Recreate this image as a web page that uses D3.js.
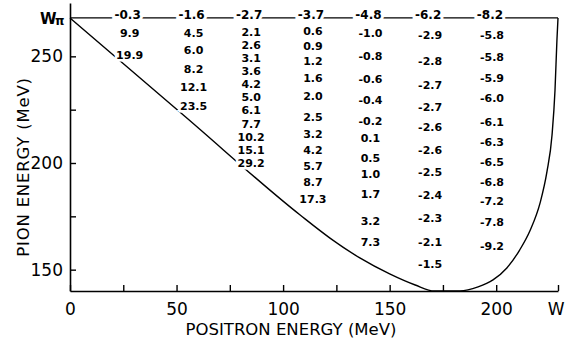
<!DOCTYPE html>
<html>
<head>
<meta charset="utf-8">
<script src="https://cdn.jsdelivr.net/npm/d3@7"></script>
<style>
  body { margin: 0; background: #fff; }
  text { font-family: "DejaVu Sans", sans-serif; fill: #000; }
</style>
</head>
<body>
<div id="chart"></div>
<script>
// kinematic limits
let wPion = 268;      // W_pi, top of the pion energy range (MeV)
let wPositron = 229;  // W, end of positron energy axis (MeV)

// positron energy of each column of numbers
let columnEnergy = [28, 58, 85, 114, 141, 169, 198];
// numbers written on the W_pi line
let topValues = ["-0.3", "-1.6", "-2.7", "-3.7", "-4.8", "-6.2", "-8.2"];

// numbers in each column and the pion energy where each is written
let colValues = [
  ["9.9", "19.9"],
  ["4.5", "6.0", "8.2", "12.1", "23.5"],
  ["2.1", "2.6", "3.1", "3.6", "4.2", "5.0", "6.1", "7.7", "10.2", "15.1", "29.2"],
  ["0.6", "0.9", "1.2", "1.6", "2.0", "2.5", "3.2", "4.2", "5.7", "8.7", "17.3"],
  ["-1.0", "-0.8", "-0.6", "-0.4", "-0.2", "0.1", "0.5", "1.0", "1.7", "3.2", "7.3"],
  ["-2.9", "-2.8", "-2.7", "-2.7", "-2.6", "-2.6", "-2.5", "-2.4", "-2.3", "-2.1", "-1.5"],
  ["-5.8", "-5.8", "-5.9", "-6.0", "-6.1", "-6.3", "-6.5", "-6.8", "-7.2", "-7.8", "-9.2"]
];
let colRows = [
  [260.9, 250.6],
  [260.9, 253.0, 244.1, 235.6, 226.7],
  [261.4, 255.3, 249.1, 243.0, 236.8, 230.7, 224.6, 218.4, 212.3, 206.1, 200.0],
  [261.9, 254.8, 247.8, 239.8, 231.4, 221.6, 213.6, 206.1, 198.6, 191.1, 183.1],
  [260.9, 250.2, 239.4, 229.5, 219.7, 211.7, 202.3, 194.8, 185.5, 172.8, 163.0],
  [260.0, 247.8, 236.6, 226.3, 216.9, 206.1, 195.8, 185.0, 174.2, 163.0, 152.7],
  [260.0, 249.7, 239.8, 230.5, 219.2, 209.8, 200.5, 191.1, 182.2, 172.3, 161.1]
];

// boundary curve (positron energy, pion energy)
let boundaryE = [0, 54, 108, 122, 136, 150, 162, 171, 183, 191.5, 198.5, 205, 211, 216, 220.6, 223.8, 226.2, 227.6, 228.5, 229];
let boundaryPi = [268, 221.8, 175.6, 164.8, 155.5, 148, 142.8, 140, 140, 141.9, 145.2, 150.8, 159.2, 168.6, 181.3, 195.8, 213.1, 234.2, 257.7, 268];

let xTicks = [0, 25, 50, 75, 100, 125, 150, 175, 200, wPositron];
let xLabels = [0, 50, 100, 150, 200];
let yTicks = [150, 175, 200, 225, 250];
let yLabels = [150, 200, 250];

let width = 565, height = 342;
let svg = d3.select('#chart').append('svg')
  .attr('width', width).attr('height', height);

let x = d3.scaleLinear().domain([0, wPositron]).range([70, 558]);
let y = d3.scaleLinear().domain([140, 275]).range([291, 3]);

// axes, ticks pointing inward
let xAxis = svg.append('g')
  .attr('transform', 'translate(0,' + y(140) + ')')
  .call(d3.axisBottom(x)
    .tickValues(xTicks)
    .tickSizeInner(-6).tickSizeOuter(0).tickPadding(12)
    .tickFormat(d => d === wPositron ? 'W' : (xLabels.includes(d) ? d : '')));
let yAxis = svg.append('g')
  .attr('transform', 'translate(' + x(0) + ',0)')
  .call(d3.axisLeft(y)
    .tickValues(yTicks)
    .tickSizeInner(-6).tickSizeOuter(0).tickPadding(7)
    .tickFormat(d => yLabels.includes(d) ? d : ''));

[xAxis, yAxis].forEach(g => {
  g.select('.domain').attr('stroke', '#000').attr('stroke-width', 1.6);
  g.selectAll('.tick line').attr('stroke', '#000').attr('stroke-width', 1.4);
  g.selectAll('.tick text')
    .attr('font-family', '"DejaVu Sans", sans-serif')
    .attr('font-size', 17).attr('fill', '#000');
});
// keep the W label inside the picture
xAxis.selectAll('.tick text')
  .filter(d => d === wPositron)
  .attr('text-anchor', 'end').attr('x', 6);

// W_pi line along the top
svg.append('line')
  .attr('x1', x(0)).attr('x2', x(wPositron))
  .attr('y1', y(wPion)).attr('y2', y(wPion))
  .attr('stroke', '#000').attr('stroke-width', 1.3);

// boundary curve
let pts = boundaryE.map((e, i) => [e, boundaryPi[i]]);
svg.append('path')
  .datum(pts)
  .attr('fill', 'none')
  .attr('stroke', '#000')
  .attr('stroke-width', 1.4)
  .attr('d', d3.line().x(d => x(d[0])).y(d => y(d[1])).curve(d3.curveMonotoneX));

// W_pi label
let wl = svg.append('text')
  .attr('x', x(0) - 7).attr('y', y(wPion) + 6)
  .attr('text-anchor', 'end')
  .attr('font-size', 15).attr('font-weight', 'bold')
  .attr('letter-spacing', -1.5);
wl.append('tspan').text('W');
wl.append('tspan').attr('font-size', 12).attr('dy', 1).text('π');

let labelFont = '"Liberation Sans", Arial, sans-serif';

// numbers on the top line
svg.append('g').selectAll('text')
  .data(topValues)
  .enter().append('text')
  .attr('x', (d, i) => x(columnEnergy[i]) - 2)
  .attr('y', y(wPion) - 3)
  .attr('dy', '0.35em')
  .attr('text-anchor', 'middle')
  .attr('font-family', labelFont)
  .attr('font-size', 12).attr('font-weight', 'bold')
  .attr('stroke', '#fff').attr('stroke-width', 6).attr('paint-order', 'stroke')
  .text(d => d);

// numbers in the columns
let cells = [];
colValues.forEach((vals, c) => {
  vals.forEach((v, r) => cells.push({ col: c, value: v, pion: colRows[c][r] }));
});
svg.append('g').selectAll('text')
  .data(cells)
  .enter().append('text')
  .attr('x', d => x(columnEnergy[d.col]))
  .attr('y', d => y(d.pion))
  .attr('dy', '0.35em')
  .attr('text-anchor', 'middle')
  .attr('font-family', labelFont)
  .attr('font-size', 11).attr('font-weight', 'bold')
  .attr('stroke', '#fff').attr('stroke-width', 5).attr('paint-order', 'stroke')
  .text(d => d.value);

// axis titles
svg.append('text')
  .attr('x', 291).attr('y', 335)
  .attr('text-anchor', 'middle')
  .attr('font-size', 16.5)
  .text('POSITRON ENERGY (MeV)');
svg.append('text')
  .attr('transform', 'translate(29,167) rotate(-90)')
  .attr('text-anchor', 'middle')
  .attr('font-size', 16.5).attr('letter-spacing', 0.8)
  .text('PION ENERGY (MeV)');
</script>
</body>
</html>
